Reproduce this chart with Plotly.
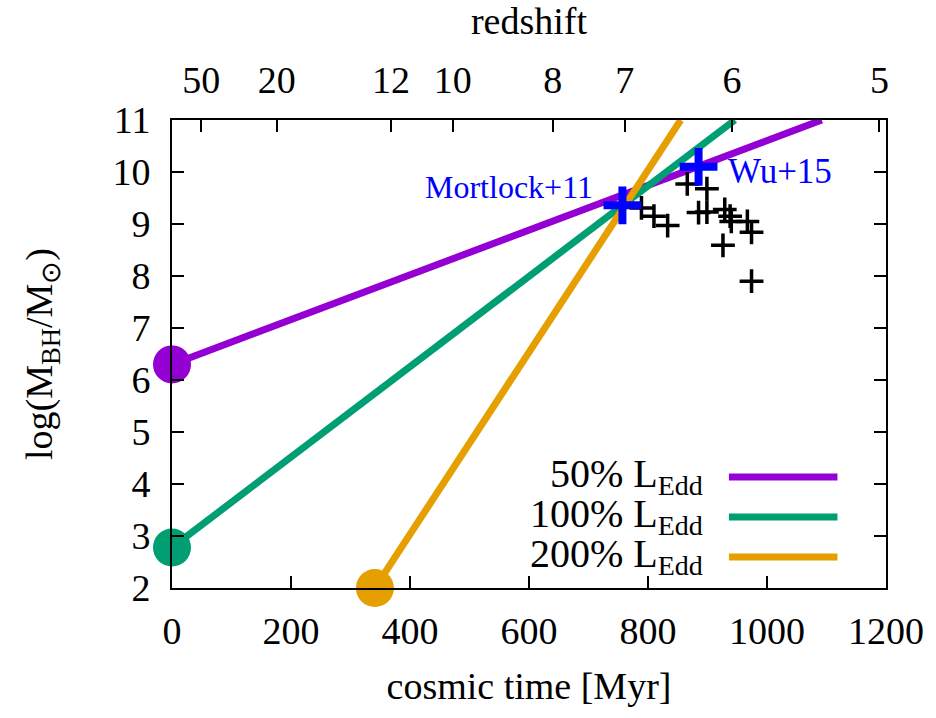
import plotly.graph_objects as go

# Growth tracks: log BH mass vs cosmic time for three Eddington ratios
track_names = ["50% L<sub>Edd</sub>", "100% L<sub>Edd</sub>", "200% L<sub>Edd</sub>"]
track_colors = ["#9400d3", "#009e73", "#e69f00"]
track_t = [[0, 1092], [0, 946], [341, 855]]          # Myr
track_logm = [[6.3, 11.0], [2.78, 11.0], [2.0, 11.0]]  # log(M/Msun)

# Observed quasars (z ~ 6)
qso_t = [789, 810, 833, 866, 899, 885, 899, 929, 938, 940, 967, 974, 926, 974]
qso_logm = [9.31, 9.15, 8.97, 9.77, 9.68, 9.22, 9.23, 9.28, 9.15, 9.05, 9.05, 8.84, 8.59, 7.90]

# Highlighted objects
named_labels = ["Mortlock+11", "Wu+15"]
named_t = [757, 885]
named_logm = [9.36, 10.10]

# Redshift axis (top)
z_labels = ["50", "20", "12", "10", "8", "7", "6", "5"]
z_times = [49, 176, 368, 472, 640, 761, 941, 1189]

x_ticks = [0, 200, 400, 600, 800, 1000, 1200]
y_ticks = [2, 3, 4, 5, 6, 7, 8, 9, 10, 11]

FONT = "Liberation Serif"
FS = 38

fig = go.Figure()

for name, col, t, m in zip(track_names, track_colors, track_t, track_logm):
    fig.add_trace(go.Scatter(x=t, y=m, mode="lines", line=dict(color=col, width=7),
                             showlegend=False, cliponaxis=True))
    fig.add_trace(go.Scatter(x=[t[0]], y=[m[0]], mode="markers",
                             marker=dict(color=col, size=38, line=dict(width=0)),
                             showlegend=False, cliponaxis=False))

fig.add_trace(go.Scatter(x=qso_t, y=qso_logm, mode="markers",
                         marker=dict(symbol="cross-thin", size=17,
                                     line=dict(color="black", width=3.5)),
                         showlegend=False, cliponaxis=False))

fig.add_trace(go.Scatter(x=named_t, y=named_logm, mode="markers",
                         marker=dict(symbol="cross-thin", size=27,
                                     line=dict(color="#0000ff", width=8)),
                         showlegend=False, cliponaxis=False))

# labels for the highlighted objects
fig.add_annotation(x=named_t[0], y=named_logm[0], text=named_labels[0], showarrow=False,
                   xanchor="right", yanchor="middle", xshift=-27, yshift=18,
                   font=dict(family=FONT, size=32, color="#0000ff"))
fig.add_annotation(x=named_t[1], y=named_logm[1], text=named_labels[1], showarrow=False,
                   xanchor="left", yanchor="middle", xshift=27, yshift=-5,
                   font=dict(family=FONT, size=35, color="#0000ff"))

# invisible trace that anchors the redshift axis
fig.add_trace(go.Scatter(x=[], y=[], xaxis="x2", yaxis="y", showlegend=False, hoverinfo="skip"))

# key: text to the left, line sample to the right
key_y = [0.2374, 0.1519, 0.0663]
for name, col, ky in zip(track_names, track_colors, key_y):
    fig.add_shape(type="line", xref="paper", yref="paper", x0=0.780, x1=0.932, y0=ky, y1=ky,
                  line=dict(color=col, width=7))
    fig.add_annotation(xref="paper", yref="paper", x=0.747, y=ky, text=name, showarrow=False,
                       xanchor="right", yanchor="middle", yshift=1,
                       font=dict(family=FONT, size=40, color="black"))

axis_common = dict(showgrid=False, zeroline=False, linecolor="black", linewidth=2,
                   ticks="inside", ticklen=12, tickwidth=2, tickcolor="black",
                   tickfont=dict(family=FONT, size=FS, color="black"))

fig.update_layout(
    width=936, height=718,
    margin=dict(l=172, r=50, t=120, b=130),
    paper_bgcolor="white", plot_bgcolor="white",
    font=dict(family=FONT, size=FS, color="black"),
    showlegend=False,
    xaxis=dict(range=[0, 1200], tickvals=x_ticks, mirror=True,
               title=dict(text="cosmic time [Myr]", font=dict(family=FONT, size=FS, color="black"),
                          standoff=22),
               ticklabelstandoff=8, **axis_common),
    xaxis2=dict(range=[0, 1200], overlaying="x", side="top", tickvals=z_times, ticktext=z_labels,
                title=dict(text="redshift", font=dict(family=FONT, size=FS, color="black"), standoff=18),
                ticklabelstandoff=10, showline=True, **axis_common),
    yaxis=dict(range=[2, 11], tickvals=y_ticks, mirror="ticks",
               title=dict(text="log(M<sub>BH</sub>/M<sub>⊙</sub>)",
                          font=dict(family=FONT, size=FS, color="black"), standoff=48),
               ticklabelstandoff=12, **axis_common),
)

fig.write_html("out.html")
